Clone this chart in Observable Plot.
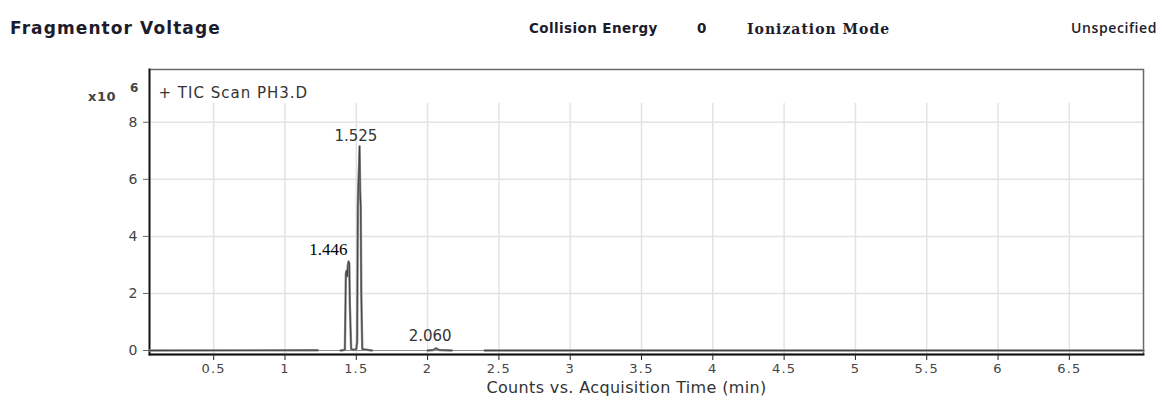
<!DOCTYPE html>
<html><head><meta charset="utf-8">
<script src="https://cdn.jsdelivr.net/npm/d3@7"></script>
<script src="https://cdn.jsdelivr.net/npm/@observablehq/plot@0.6"></script>
<style>
html,body{margin:0;padding:0;background:#fff}
body{width:1164px;height:401px;overflow:hidden;position:relative;font-family:"DejaVu Sans",sans-serif}
#chart{position:absolute;left:0;top:0}
.h{position:absolute;white-space:nowrap;color:#1c1c2c;font-weight:bold;line-height:1}
#chart svg g[aria-label="x-axis tick label"] text{letter-spacing:1.2px}
</style></head><body>
<div id="chart"></div>
<div class="h" style="left:10px;top:20px;font-size:17px;letter-spacing:1.1px">Fragmentor Voltage</div>
<div class="h" style="left:529px;top:22px;font-size:13.5px;letter-spacing:0.4px">Collision Energy</div>
<div class="h" style="left:697px;top:22px;font-size:13.5px">0</div>
<div class="h" style="left:747px;top:22px;font-size:14px;letter-spacing:1px;font-family:'DejaVu Serif',serif">Ionization Mode</div>
<div class="h" style="left:1071px;top:21px;font-size:14px;letter-spacing:0.6px;font-weight:600;font-family:'Open Sans',sans-serif">Unspecified</div>
<div class="h" style="left:88px;top:90px;font-size:13px;letter-spacing:0.5px;color:#444">x10</div>
<div class="h" style="left:130px;top:82px;font-size:12px;color:#444">6</div>
<script>
// tick values
const xTicks = [0.5, 1, 1.5, 2, 2.5, 3, 3.5, 4, 4.5, 5, 5.5, 6, 6.5];
const yTicks = [0, 2, 4, 6, 8];
const segA_t = [0.05, 1.23];
const segA_v = [0, 0.01];
const segB_t = [1.39, 1.42, 1.427, 1.432, 1.437, 1.441, 1.446, 1.451, 1.455, 1.459, 1.464, 1.48, 1.50, 1.506, 1.511, 1.515, 1.519, 1.523, 1.527, 1.531, 1.535, 1.542, 1.61];
const segB_v = [0, 0.02, 2.7, 2.8, 2.6, 3.0, 3.12, 3.05, 1.6, 0.9, 0.05, 0.02, 0.05, 0.3, 5.0, 5.9, 6.4, 7.16, 5.6, 5.1, 2.0, 0.05, 0];
const segC_t = [2.0, 2.04, 2.06, 2.08, 2.17];
const segC_v = [0, 0.02, 0.08, 0.02, 0];
const segD_t = [2.40, 7.02];
const segD_v = [0, 0];
// labelled peaks
const peakTimes = [1.446, 1.525, 2.060];
const peakHeights = [3.12, 7.16, 0.08];
const peakLabels = ["1.446", "1.525", "2.060"];
const legendLabel = "+ TIC Scan PH3.D";
const xTitle = "Counts vs. Acquisition Time (min)";

const trace = [];
[[segA_t, segA_v, "A"], [segB_t, segB_v, "B"], [segC_t, segC_v, "C"], [segD_t, segD_v, "D"]].forEach(([ts, vs, s]) => {
  ts.forEach((t, i) => trace.push({t, v: vs[i], seg: s}));
});
const peaks = peakTimes.map((t, i) => ({t, v: peakHeights[i], label: peakLabels[i]}));

const yMin = -0.14, yMax = 9.85, gridTop = 8.66;

const chart = Plot.plot({
  width: 1164, height: 401,
  marginLeft: 149, marginRight: 21, marginTop: 69, marginBottom: 47,
  x: {domain: [0.05, 7.02]},
  y: {domain: [yMin, yMax]},
  style: {background: "transparent", fontFamily: "DejaVu Sans, sans-serif", color: "#3a3a3a"},
  marks: [
    Plot.ruleY(yTicks.filter(d => d > 0), {stroke: "#e3e3e3", strokeWidth: 1.5}),
    Plot.ruleX(xTicks, {y1: yMin, y2: gridTop, stroke: "#e3e3e3", strokeWidth: 1.5}),
    Plot.ruleY([0], {stroke: "#8c8c8c", strokeWidth: 1.2}),
    Plot.frame({stroke: "#6a6a6a", strokeWidth: 1.5}),
    Plot.frame({anchor: "left", stroke: "#111", strokeWidth: 1.8}),
    Plot.frame({anchor: "bottom", stroke: "#111", strokeWidth: 1.8}),
    Plot.line(trace, {x: "t", y: "v", z: "seg", stroke: "#8a8a8a", strokeWidth: 2.4}),
    Plot.line(trace, {x: "t", y: "v", z: "seg", stroke: "#3a3a3a", strokeWidth: 0.9}),
    Plot.text(peaks.filter(d => d.label === "1.525"), {x: "t", y: "v", text: "label", dx: -4, dy: -10, fontSize: 15, fill: "#333", fontFamily: "DejaVu Sans, sans-serif"}),
    Plot.text(peaks.filter(d => d.label === "2.060"), {x: "t", y: "v", text: "label", dx: -6, dy: -12, fontSize: 15, fill: "#333", fontFamily: "DejaVu Sans, sans-serif"}),
    Plot.text(peaks.filter(d => d.label === "1.446"), {x: "t", y: "v", text: "label", textAnchor: "end", dx: -1, dy: -12, fontSize: 17, fill: "#000", fontFamily: "Liberation Serif, serif"}),
    Plot.text([legendLabel], {frameAnchor: "top-left", dx: 9, dy: 18, fontSize: 15, fill: "#333", fontFamily: "DejaVu Sans, sans-serif"}),
    Plot.text([xTitle], {frameAnchor: "bottom", dx: -20, dy: 38, fontSize: 16, fill: "#333", fontFamily: "DejaVu Sans, sans-serif"}),
    Plot.axisX({ticks: xTicks, tickSize: 6, tickPadding: 3, fontSize: 13, tickFormat: d => String(d), label: null, stroke: "#222", fill: "#444"}),
    Plot.axisY({ticks: yTicks, tickSize: 6, tickPadding: 6, fontSize: 14, label: null, stroke: "#666", fill: "#444"})
  ]
});
const spacing = new Map([[legendLabel, "1px"], [xTitle, "0.35px"]]);
d3.select(chart).selectAll("text").each(function() {
  const s = spacing.get(this.textContent);
  if (s) this.style.letterSpacing = s;
});
document.getElementById("chart").appendChild(chart);
</script>
</body></html>
